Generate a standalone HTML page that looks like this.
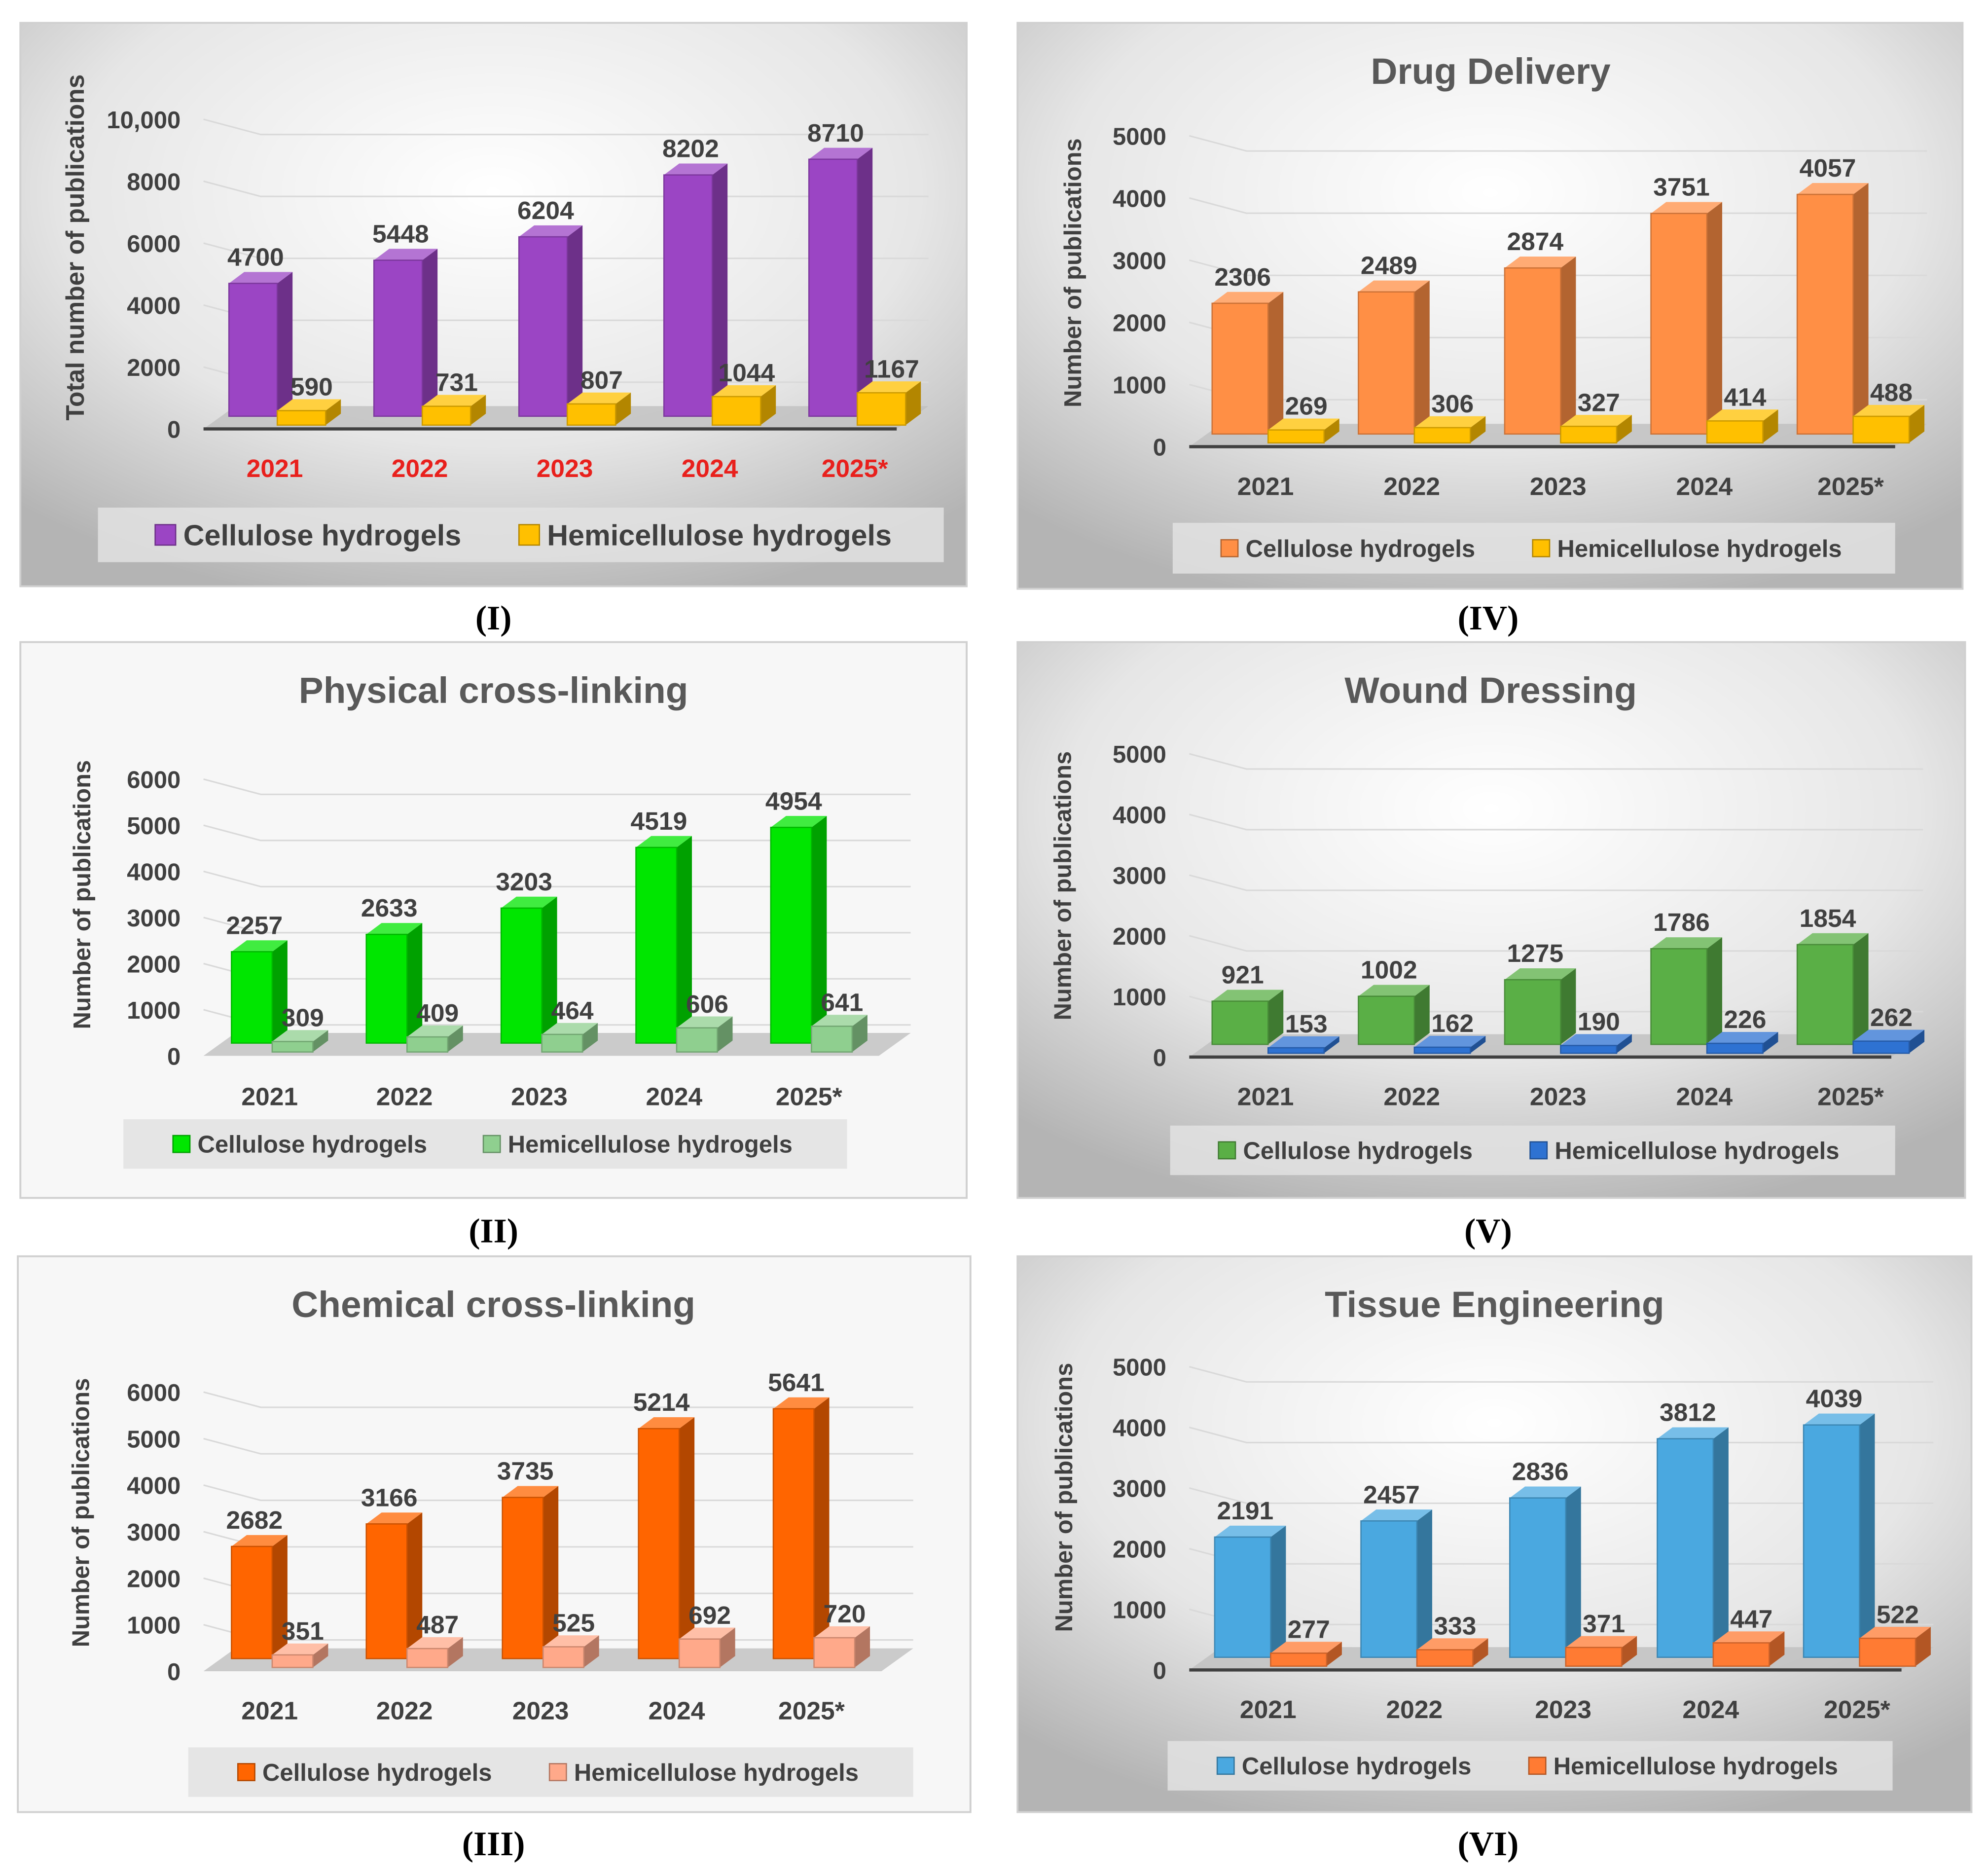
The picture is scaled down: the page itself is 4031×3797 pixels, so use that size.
<!DOCTYPE html>
<html><head><meta charset="utf-8">
<style>
html,body{margin:0;padding:0;background:#fff;}
svg{display:block;}
text{font-family:"Liberation Sans","DejaVu Sans",sans-serif;}
</style></head>
<body>
<svg id="root" width="4031" height="3797" viewBox="0 0 1563 1476" preserveAspectRatio="none" xmlns="http://www.w3.org/2000/svg">
<defs>
<radialGradient id="gbg" cx="50%" cy="30%" r="75%">
<stop offset="0" stop-color="#ffffff"/><stop offset="0.6" stop-color="#e6e6e6"/><stop offset="1" stop-color="#b4b4b4"/>
</radialGradient>
</defs>
</svg>
<script>
const years = ["2021","2022","2023","2024","2025*"];
const cellI = [4700,5448,6204,8202,8710];
const hemiI = [590,731,807,1044,1167];
const cellIV = [2306,2489,2874,3751,4057];
const hemiIV = [269,306,327,414,488];
const cellII = [2257,2633,3203,4519,4954];
const hemiII = [309,409,464,606,641];
const cellV = [921,1002,1275,1786,1854];
const hemiV = [153,162,190,226,262];
const cellIII = [2682,3166,3735,5214,5641];
const hemiIII = [351,487,525,692,720];
const cellVI = [2191,2457,2836,3812,4039];
const hemiVI = [277,333,371,447,522];
const ticksI = ["0","2000","4000","6000","8000","10,000"];
const ticks5k = ["0","1000","2000","3000","4000","5000"];
const ticks6k = ["0","1000","2000","3000","4000","5000","6000"];

const NS="http://www.w3.org/2000/svg";
const root=document.getElementById('root');
function mk(tag,attrs,parent,txt){const e=document.createElementNS(NS,tag);for(const k in attrs)e.setAttribute(k,attrs[k]);if(txt!==undefined)e.textContent=txt;(parent||root).appendChild(e);return e;}
function shade(hex,f){let n=parseInt(hex.slice(1),16);let r=n>>16,g=(n>>8)&255,b=n&255;
 const c=v=>Math.max(0,Math.min(255,Math.round(f<1?v*f:v+(255-v)*(f-1))));return "rgb("+c(r)+","+c(g)+","+c(b)+")";}

function panel(p){
 const g=mk('g',{});
 
 
 const bg=mk('rect',{x:p.x,y:p.y,width:p.w,height:p.h,fill:p.grad?'url(#gbg)':'#f7f7f7',stroke:'#d0d0d0','stroke-width':1.5},g);
 
 
 if(p.title){const t=mk('text',{x:p.tx,y:p.ty,'text-anchor':'middle','font-size':29,'font-weight':'bold',fill:'#595959'},g,p.title);
  
  }
 const yt=mk('text',{x:0,y:0,transform:`translate(${p.ylx},${p.yly}) rotate(-90)`,'text-anchor':'middle','font-size':p.ylfs||19,'font-weight':'bold',fill:'#404040'},g,p.ylabel);
 
 
 const max=p.max; const ppu=(p.y0-p.ytop)/max;
 const Y=v=>p.y0-v*ppu;
 const n=p.ticks.length;
 for(let i=0;i<n;i++){const v=max*i/(n-1);const yy=Y(v);
  if(i>0){const gl=mk('polyline',{points:`${p.ax},${yy} ${p.ax+45},${yy+12} ${p.xr},${yy+12}`,fill:'none',stroke:'#d9d9d9','stroke-width':1.2},g);
   
   }
  const tl=mk('text',{x:p.ax-18,y:yy+7,'text-anchor':'end','font-size':p.tfs||19,'font-weight':'bold',fill:'#404040'},g,p.ticks[i]);
  
  }
 const fl=mk('polygon',{points:`${p.ax},${p.y0} ${p.xr-25},${p.y0} ${p.xr},${p.y0-18} ${p.ax+25},${p.y0-18}`,fill:'#bfbfbf',opacity:0.8},g);
 
 
 if(p.axisLine){const al=mk('line',{x1:p.ax,y1:p.y0,x2:p.xr-25,y2:p.y0,stroke:'#404040','stroke-width':2.5},g);
  
  }
 const bw=p.bw, dx=12, dy=-9;
 function bar(x,base,v,col,nm){const top=Y(v);
  const bg2=mk('g',{},g);
  
  
  mk('polygon',{points:`${x+bw},${base} ${x+bw+dx},${base+dy} ${x+bw+dx},${top+dy} ${x+bw},${top}`,fill:shade(col,0.7)},bg2);
  mk('polygon',{points:`${x},${top} ${x+bw},${top} ${x+bw+dx},${top+dy} ${x+dx},${top+dy}`,fill:shade(col,1.25)},bg2);
  mk('rect',{x:x,y:top,width:bw,height:base-top,fill:col,stroke:shade(col,0.8),'stroke-width':1},bg2);
  return top;}
 for(let i=0;i<5;i++){const c=p.cx[i];
  const ct=bar(c-bw+2,p.y0-10,p.cell[i],p.c1,'bar-cellulose-'+years[i]);
  const l1=mk('text',{x:c-bw/2+4,y:ct-14,'text-anchor':'middle','font-size':20,'font-weight':'bold',fill:'#404040'},g,String(p.cell[i]));
  
  
  const ht=bar(c+2,p.y0-3,p.hemi[i],p.c2,'bar-hemicellulose-'+years[i]);
  const l2=mk('text',{x:c+bw/2+10,y:ht-12,'text-anchor':'middle','font-size':20,'font-weight':'bold',fill:'#404040'},g,String(p.hemi[i]));
  
  
  const xl=mk('text',{x:c,y:p.xly,'text-anchor':'middle','font-size':20,'font-weight':'bold',fill:p.xcol||'#404040'},g,years[i]);
  
  }
 const L=p.leg;
 const lb=mk('rect',{x:L[0],y:L[1],width:L[2],height:L[3],fill:'#e2e2e2',opacity:0.85},g);
 
 
 const fs=L[7]||20, sw=fs*0.7, cy=L[1]+L[3]/2;
 [[L[4],p.c1,'Cellulose hydrogels'],[L[5],p.c2,'Hemicellulose hydrogels']].forEach((it,k)=>{
  const e=mk('g',{},g);
  
  
  mk('rect',{x:it[0],y:cy-sw/2,width:sw,height:sw,fill:it[1],stroke:shade(it[1],0.7)},e);
  mk('text',{x:it[0]+sw+6,y:cy+fs*0.36,'font-size':fs,'font-weight':'bold',fill:'#404040'},e,it[2]);});
 const pl=mk('text',{x:p.plx,y:p.ply,'text-anchor':'middle','font-size':27,'font-weight':'bold',style:'font-family:"Liberation Serif",serif',fill:'#000'},g,p.plabel);
 
 
}

panel({name:'chart-I-total',x:16,y:18,w:744,h:444,grad:true,ylabel:'Total number of publications',ylx:66,yly:195,ylfs:20,
 max:10000,ticks:ticksI,ax:160,y0:338,ytop:94,xr:730,cx:[216,330,444,558,672],bw:38,cell:cellI,hemi:hemiI,c1:'#9b45c4',c2:'#ffc000',
 xly:376,xcol:'#e8201c',axisLine:true,leg:[77,400,665,43,122,408,0,23],plabel:'(I)',plx:388,ply:496});
panel({name:'chart-IV-drug-delivery',x:800,y:18,w:743,h:446,grad:true,title:'Drug Delivery',tx:1172,ty:66,ylabel:'Number of publications',ylx:850,yly:215,
 max:5000,ticks:ticks5k,ax:935,y0:352,ytop:107,xr:1515,cx:[995,1110,1225,1340,1455],bw:44,cell:cellIV,hemi:hemiIV,c1:'#ff8f45',c2:'#ffc000',
 xly:390,axisLine:true,leg:[922,412,568,40,960,1205,0,19],plabel:'(IV)',plx:1170,ply:496});
panel({name:'chart-II-physical-crosslinking',x:16,y:506,w:744,h:438,grad:false,title:'Physical cross-linking',tx:388,ty:554,ylabel:'Number of publications',ylx:71,yly:705,
 max:6000,ticks:ticks6k,ax:160,y0:832,ytop:614,xr:716,cx:[212,318,424,530,636],bw:32,cell:cellII,hemi:hemiII,c1:'#00e600',c2:'#8fcf8f',
 xly:871,leg:[97,882,569,39,136,380,0,19],plabel:'(II)',plx:388,ply:979});
panel({name:'chart-V-wound-dressing',x:800,y:506,w:745,h:438,grad:true,title:'Wound Dressing',tx:1172,ty:554,ylabel:'Number of publications',ylx:842,yly:698,
 max:5000,ticks:ticks5k,ax:935,y0:833,ytop:594,xr:1512,cx:[995,1110,1225,1340,1455],bw:44,cell:cellV,hemi:hemiV,c1:'#5aaf46',c2:'#2e72d2',
 xly:871,axisLine:true,leg:[920,887,570,39,958,1203,0,19],plabel:'(V)',plx:1170,ply:979});
panel({name:'chart-III-chemical-crosslinking',x:14,y:990,w:749,h:438,grad:false,title:'Chemical cross-linking',tx:388,ty:1038,ylabel:'Number of publications',ylx:70,yly:1192,
 max:6000,ticks:ticks6k,ax:160,y0:1317,ytop:1097,xr:718,cx:[212,318,425,532,638],bw:32,cell:cellIII,hemi:hemiIII,c1:'#ff6500',c2:'#ffa98a',
 xly:1355,leg:[148,1377,570,39,187,432,0,19],plabel:'(III)',plx:388,ply:1462});
panel({name:'chart-VI-tissue-engineering',x:800,y:990,w:750,h:438,grad:true,title:'Tissue Engineering',tx:1175,ty:1038,ylabel:'Number of publications',ylx:843,yly:1180,
 max:5000,ticks:ticks5k,ax:935,y0:1316,ytop:1077,xr:1520,cx:[997,1112,1229,1345,1460],bw:44,cell:cellVI,hemi:hemiVI,c1:'#4aa8e0',c2:'#ff7b33',
 xly:1354,axisLine:true,leg:[918,1372,570,39,957,1202,0,19],plabel:'(VI)',plx:1170,ply:1462});
</script>
</body></html>
